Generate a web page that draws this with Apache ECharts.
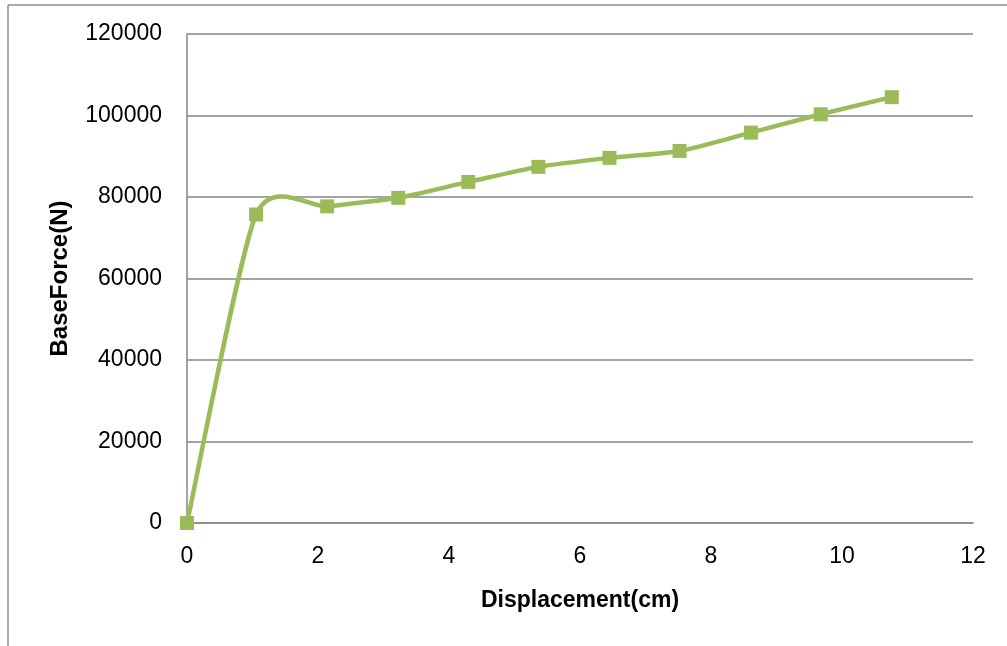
<!DOCTYPE html>
<html><head><meta charset="utf-8">
<script src="https://cdn.jsdelivr.net/npm/echarts@6/dist/echarts.min.js"></script>
<style>html,body{margin:0;padding:0;background:#fff;}#c{width:1007px;height:646px;}</style>
</head><body><div id="c"></div>
<script>
const displacement = [0, 1.055, 2.14, 3.225, 4.295, 5.365, 6.45, 7.52, 8.61, 9.675, 10.76];
const baseForce = [0, 75700, 77700, 79800, 83700, 87400, 89600, 91300, 95800, 100300, 104500];
const xTitle = 'Displacement(cm)';
const yTitle = 'BaseForce(N)';

const data = displacement.map((x, i) => [x, baseForce[i]]);
const chart = echarts.init(document.getElementById('c'));
const font = 'Liberation Sans, Arial, sans-serif';
const green = '#9BBB59';
const tension = 0.115;

function renderSmooth(params, api) {
  if (params.dataIndex !== 0) return null;
  const pts = data.map(d => api.coord(d));
  const n = pts.length;
  let path = 'M' + pts[0][0] + ' ' + pts[0][1];
  for (let i = 0; i < n - 1; i++) {
    const p0 = pts[Math.max(i - 1, 0)], p1 = pts[i], p2 = pts[i + 1], p3 = pts[Math.min(i + 2, n - 1)];
    const c1 = [p1[0] + (p2[0] - p0[0]) * tension, p1[1] + (p2[1] - p0[1]) * tension];
    const c2 = [p2[0] - (p3[0] - p1[0]) * tension, p2[1] - (p3[1] - p1[1]) * tension];
    path += ' C' + c1[0] + ' ' + c1[1] + ' ' + c2[0] + ' ' + c2[1] + ' ' + p2[0] + ' ' + p2[1];
  }
  return {
    type: 'path',
    shape: {pathData: path},
    style: {fill: 'none', stroke: green, lineWidth: 4.5}
  };
}

chart.setOption({
  animation: false,
  grid: {left: 187, right: 34, top: 34, bottom: 123},
  graphic: [
    {type: 'line', shape: {x1: 8, y1: 5, x2: 8, y2: 646}, style: {stroke: '#8c8c8c', lineWidth: 1.5}},
    {type: 'line', shape: {x1: 8, y1: 5, x2: 1007, y2: 5}, style: {stroke: '#8c8c8c', lineWidth: 1.5}}
  ],
  xAxis: {
    type: 'value', min: 0, max: 12, interval: 2,
    name: xTitle, nameLocation: 'middle', nameGap: 66,
    nameTextStyle: {fontFamily: font, fontWeight: 'bold', fontSize: 23, color: '#000'},
    axisLine: {show: true, lineStyle: {color: '#868686', width: 1.5}},
    axisTick: {show: false},
    splitLine: {show: false},
    axisLabel: {fontFamily: font, fontSize: 23, color: '#000', margin: 22}
  },
  yAxis: {
    type: 'value', min: 0, max: 120000, interval: 20000,
    name: yTitle, nameLocation: 'middle', nameGap: 115, nameRotate: 90,
    nameTextStyle: {fontFamily: font, fontWeight: 'bold', fontSize: 24, color: '#000'},
    axisLine: {show: true, lineStyle: {color: '#868686', width: 1.5}},
    axisTick: {show: false},
    splitLine: {show: true, lineStyle: {color: '#868686', width: 1.5}},
    axisLabel: {fontFamily: font, fontSize: 23, color: '#000', margin: 25, formatter: v => String(v)}
  },
  series: [
    {
      type: 'custom',
      data: data,
      renderItem: renderSmooth,
      z: 2
    },
    {
      type: 'scatter',
      data: data,
      symbol: 'rect', symbolSize: 14,
      itemStyle: {color: green, opacity: 1},
      z: 3
    }
  ]
});
</script></body></html>
